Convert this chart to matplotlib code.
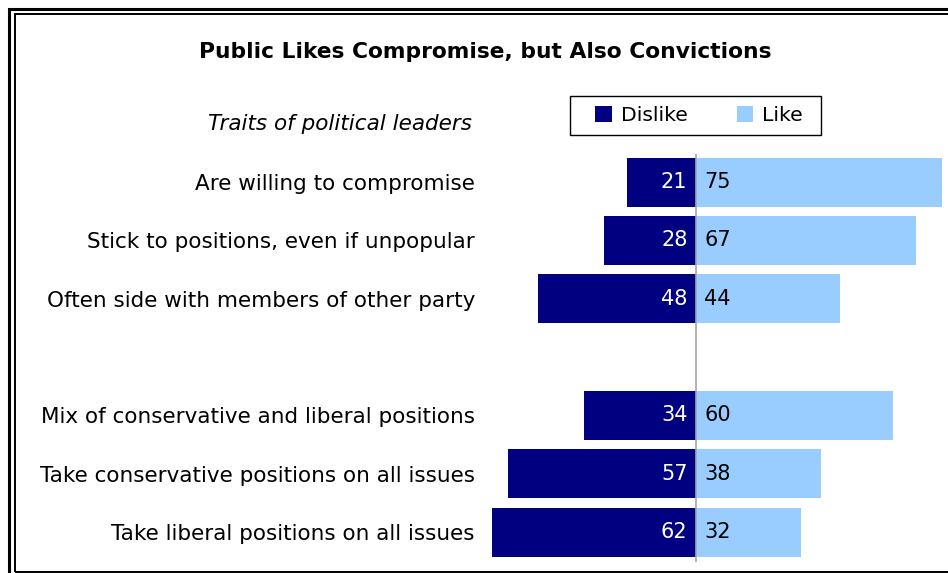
import matplotlib
matplotlib.use("Agg")
import matplotlib.pyplot as plt
from matplotlib.patches import Rectangle

# Traits, in two groups separated by a blank row
traits_top = ["Are willing to compromise",
              "Stick to positions, even if unpopular",
              "Often side with members of other party"]
traits_bottom = ["Mix of conservative and liberal positions",
                 "Take conservative positions on all issues",
                 "Take liberal positions on all issues"]
dislike_top = [21, 28, 48]
like_top = [75, 67, 44]
dislike_bottom = [34, 57, 62]
like_bottom = [60, 38, 32]

DARK = "#000080"
LIGHT = "#99CCFF"
W, H = 948, 573

plt.rcParams["font.family"] = "DejaVu Sans"

fig = plt.figure(figsize=(W / 100, H / 100), dpi=100)

def px(x, y):
    return x / W, 1 - y / H

# double border round the chart
fig.add_artist(Rectangle(px(9, 600), (W + 50) / W, 591 / H, transform=fig.transFigure,
                         fill=False, ec="black", lw=2.2))
fig.add_artist(Rectangle(px(14.5, 571.5), (W + 50) / W, 557.5 / H, transform=fig.transFigure,
                         fill=False, ec="black", lw=1.4))

# bar area
left, right, top, bottom = 488, 948, 154, 562
ax = fig.add_axes([left / W, 1 - bottom / H, (right - left) / W, (bottom - top) / H])

labels = traits_top + traits_bottom
dislike = dislike_top + dislike_bottom
like = like_top + like_bottom
ypos = list(range(len(traits_top))) + [len(traits_top) + 1 + i for i in range(len(traits_bottom))]

b1 = ax.barh(ypos, [-d for d in dislike], height=0.84, color=DARK, label="Dislike")
b2 = ax.barh(ypos, like, height=0.84, color=LIGHT, label="Like")

for y, d, l in zip(ypos, dislike, like):
    ax.text(-2.5, y, str(d), ha="right", va="center", color="white", fontsize=15)
    ax.text(2.6, y, str(l), ha="left", va="center", color="black", fontsize=15)

ax.axvline(0, color="#A6A6A6", lw=1.2)
ax.set_xlim(-(695.7 - left) / 3.29, (right - 695.7) / 3.29)
ax.set_ylim(6.514, -0.48)
ax.set_yticks(ypos)
ax.set_yticklabels(labels, fontsize=15.5)
ax.tick_params(axis="y", length=0, pad=9.4)
ax.set_xticks([])
for s in ax.spines.values():
    s.set_visible(False)

fig.text(*px(485, 52), "Public Likes Compromise, but Also Convictions",
         ha="center", va="center", fontsize=15.7, fontweight="bold")
fig.text(*px(472, 124), "Traits of political leaders",
         ha="right", va="center", fontsize=15.5, style="italic")

# legend box drawn separately so it can be wider than its entries
fig.add_artist(Rectangle(px(569.5, 134.5), 251 / W, 38 / H, transform=fig.transFigure,
                         fill=False, ec="black", lw=1.0))
fig.legend(handles=[b1, b2], loc="center", bbox_to_anchor=px(699, 115.5),
           ncol=2, fontsize=14.7, frameon=False,
           handlelength=0.8, handleheight=0.8, handletextpad=0.45,
           columnspacing=2.4, borderpad=0.2)

fig.savefig("out.png", dpi=100)
